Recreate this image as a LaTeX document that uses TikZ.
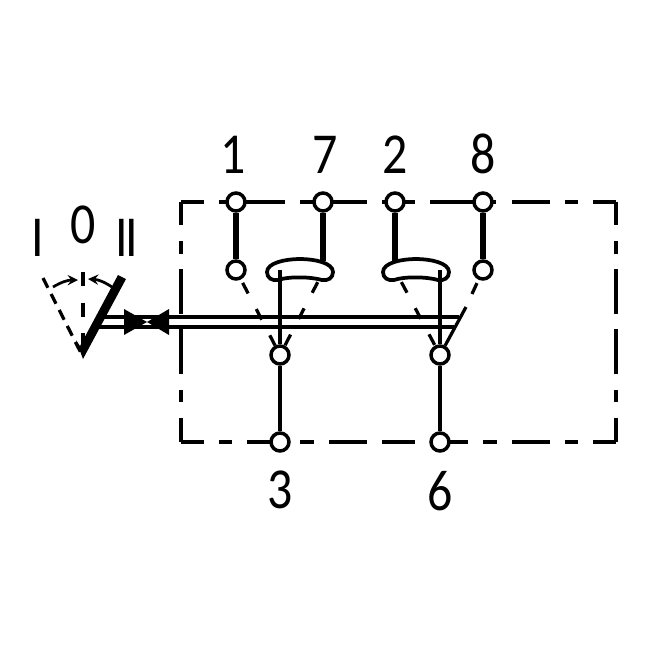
\documentclass[tikz,border=0pt]{standalone}
\usepackage{fontspec}
\setmainfont{Carlito}
\usetikzlibrary{positioning}
\tikzset{>=stealth}
\tikzset{terminal/.style={circle, draw, fill=white, line width=0.07cm, minimum size=0.36cm, inner sep=0pt}}
\tikzset{numlabel/.style={inner sep=0pt, xscale=0.86, font=\fontsize{33}{33}\selectfont}}
\tikzset{thinline/.style={line width=0.065cm}}
\tikzset{contact/.style={line width=0.115cm}}
\tikzset{rod/.style={line width=0.09cm}}
\tikzset{dashlink/.style={line width=0.065cm, dash pattern=on 6.8pt off 10pt, dash phase=14.7pt}}
\begin{document}
\begin{tikzpicture}[x=0.02cm, y=-0.02cm]
\useasboundingbox (0,0) rectangle (650,650);
% dash-dot frame
\foreach \xa/\xb in {181/204, 219/285, 300/367, 382/415, 430/496, 512/550, 565/578, 593/616}
  \draw[thinline] (\xa,202) -- (\xb,202);
\foreach \xa/\xb in {181/204, 219/232, 247/280, 300/314, 329/367, 382/415, 430/468, 483/497, 512/550, 565/578, 593/616}
  \draw[thinline] (\xa,442) -- (\xb,442);
\foreach \ya/\yb in {202/225, 241/254, 269/314, 329/374, 390/402, 418/442}
  \draw[thinline] (181,\ya) -- (181,\yb) (616,\ya) -- (616,\yb);
% terminals
\node[terminal] (t1) at (236,202) {};
\node[terminal] (t7) at (323,202) {};
\node[terminal] (t2) at (395,202) {};
\node[terminal] (t8) at (483,202) {};
\node[terminal] (m1) at (236,270) {};
\node[terminal] (m8) at (483,270) {};
\node[terminal] (c3) at (280,355) {};
\node[terminal] (c6) at (440,355) {};
\node[terminal] (t3) at (280,442) {};
\node[terminal] (t6) at (440,442) {};
% numbers
\node[numlabel, above=0.34cm of t1, xshift=-0.06cm] (l1) {1};
\node[numlabel, above=0.34cm of t7, xshift=0.04cm] (l7) {7};
\node[numlabel, above=0.34cm of t2] (l2) {2};
\node[numlabel, above=0.34cm of t8] (l8) {8};
\node[numlabel, below=0.36cm of t3] (l3) {3};
\node[numlabel, below=0.36cm of t6] (l6) {6};
\node[numlabel] (pos1) at (38,238) {I};
\node[numlabel] (pos0) at (83,225) {0};
\node[numlabel] (pos2) at (127,238) {I\kern-2pt I};
% bridges
\foreach \dx in {0, 116} {
  \draw[line width=0.075cm, xshift=\dx*0.02cm] (267,272) .. controls (267,263) and (285,259) .. (300,259)
    .. controls (315,259) and (333,263) .. (333,272) .. controls (333,278) and (328,281) .. (322,280)
    .. controls (312,277) and (290,276) .. (278,280) .. controls (272,281) and (267,278) .. (267,272) -- cycle;
}
\coordinate (topA) at (323,261);
\coordinate (topB) at (395,261);
\coordinate (rodA) at (280,270);
\coordinate (rodB) at (440,270);
\coordinate (legA) at (324,270);
\coordinate (legB) at (395,270);
% contacts
\draw[contact] (t1) -- (m1);
\draw[contact] (t8) -- (m8);
\draw[contact] (t7) -- (topA);
\draw[contact] (t2) -- (topB);
\draw[rod] (rodA) -- (c3);
\draw[rod] (rodB) -- (c6);
\draw[rod] (c3) -- (t3);
\draw[rod] (c6) -- (t6);
\draw[dashlink] (m1) -- (c3);
\draw[dashlink, dash phase=9pt] (legA) -- (c3);
\draw[dashlink, dash phase=9pt] (legB) -- (c6);
\coordinate (diag) at (466,307);
\draw[dashlink] (m8) -- (diag);
\draw[thinline] (diag) -- (c6);
% actuator
\coordinate (tip) at (83,357);
\coordinate (leverL) at (43,278);
\coordinate (leverM) at (83,272);
\coordinate (rodUa) at (102,317);
\coordinate (rodUb) at (459,317);
\coordinate (rodLa) at (97,327);
\coordinate (rodLb) at (454,327);
\draw[thinline] (rodUa) -- (rodUb);
\draw[thinline] (rodLa) -- (rodLb);
\draw[thinline, dash pattern=on 6.2pt off 4pt] (leverL) -- (tip);
\draw[thinline, dash pattern=on 8pt off 9.4pt] (leverM) -- (tip);
\fill (118,275) -- (126,279) -- (83,359) -- (76,340) -- (80,346) -- cycle;
\draw[line width=0.055cm, ->] (53,287) to[bend left=15] (78,280);
\draw[line width=0.055cm, ->] (112,287) to[bend right=15] (88,279);
\fill (124,309) -- (124,335) -- (147,322) -- cycle;
\fill (169,309) -- (169,335) -- (147,322) -- cycle;
\end{tikzpicture}
\end{document}
